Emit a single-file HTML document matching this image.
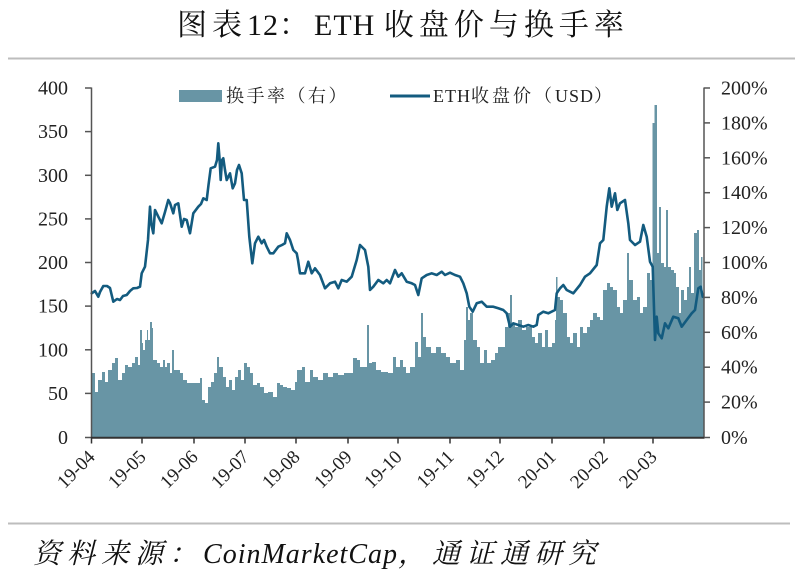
<!DOCTYPE html>
<html>
<head>
<meta charset="utf-8">
<style>
  html,body{margin:0;padding:0;background:#fff;}
  svg{display:block;}
  .serif{font-family:"Liberation Serif","Noto Serif CJK SC",serif;}
</style>
</head>
<body>
<svg width="800" height="574" viewBox="0 0 800 574" xmlns="http://www.w3.org/2000/svg">
  <rect x="0" y="0" width="800" height="574" fill="#ffffff"/>

  <!-- Title -->
  <text x="177" y="35" class="serif" font-size="30" fill="#111"><tspan style="letter-spacing:5px">图表</tspan><tspan style="letter-spacing:1px">12</tspan><tspan style="letter-spacing:5px">：</tspan><tspan style="letter-spacing:1px">ETH </tspan><tspan style="letter-spacing:5px">收盘价与换手率</tspan></text>
  <line x1="8" y1="58.5" x2="795" y2="58.5" stroke="#bdbdbd" stroke-width="2"/>

  <!-- Bars (turnover, right axis) -->
  <path fill="#6895a5" d="M91,437 V373 H95 V392 H98 V380 H102 V372 H105 V382 H108 V370 H112 V363 H115 V358 H118 V380 H122 V373 H125 V365 H128 V367 H132 V363 H135 V357 H138 V365 H140 V330 H142 V343 H143 V350 H145 V340 H147 V330 H148 V340 H150 V322 H152 V328 H153 V360 H157 V363 H160 V367 H163 V360 H165 V367 H167 V363 H170 V373 H172 V350 H174 V370 H180 V373 H183 V380 H187 V383 H200 V378 H202 V400 H205 V403 H208 V387 H211 V382 H214 V373 H217 V357 H219 V367 H223 V377 H226 V387 H229 V380 H232 V390 H235 V377 H238 V370 H241 V380 H244 V363 H247 V367 H250 V373 H253 V385 H257 V383 H260 V387 H264 V393 H268 V392 H273 V397 H277 V383 H280 V385 H283 V387 H287 V388 H291 V390 H295 V382 H297 V370 H302 V367 H305 V382 H310 V370 H313 V377 H318 V380 H323 V373 H328 V377 H333 V373 H338 V375 H344 V373 H353 V358 H357 V360 H360 V367 H367 V325 H369 V363 H372 V362 H376 V370 H381 V372 H388 V373 H393 V357 H396 V367 H400 V360 H403 V367 H406 V373 H410 V367 H415 V342 H418 V357 H421 V313 H423 V337 H426 V347 H431 V353 H436 V347 H441 V353 H446 V357 H450 V363 H456 V360 H460 V370 H464 V340 H466 V307 H468 V320 H470 V313 H473 V340 H477 V347 H480 V363 H484 V350 H487 V363 H491 V360 H495 V353 H498 V347 H505 V327 H508 V313 H510 V295 H512 V323 H515 V327 H518 V320 H522 V330 H526 V327 H532 V337 H535 V343 H538 V333 H542 V347 H545 V330 H548 V347 H552 V343 H555 V320 H556 V277 H557.5 V297 H560 V300 H563 V313 H567 V337 H570 V343 H573 V333 H577 V347 H580 V327 H583 V333 H587 V327 H590 V320 H593 V313 H597 V317 H600 V320 H603 V290 H607 V283 H610 V287 H613 V290 H617 V307 H620 V313 H623 V300 H627 V253 H629 V280 H633 V300 H637 V297 H640 V313 H643 V307 H647 V273 H650 V280 H652.5 V123 H654.5 V105 H657 V253 H659 V207 H661 V263 H664 V267 H666 V210 H668 V267 H671 V270 H674 V273 H676 V287 H679 V313 H681 V290 H684 V300 H687 V287 H689 V267 H691 V293 H694 V233 H697 V230 H699 V270 H701 V257 H702.5 V293 H704 V437 Z"/>

  <!-- Price line -->
  <polyline fill="none" stroke="#135b7f" stroke-width="2.6" stroke-linejoin="round" stroke-linecap="round" points="
  91.7,293.3 95,291 98.3,296.7 100,292 103.3,286 107,286 110,288 113.3,301.7 117,299 120,300 123,296 126.7,295 130,291 133.3,288.3 137,288 140,286.7 141.7,273.3 145,266.7 148,240 150,206.7 151.5,225 153.3,233.3 155,210 158.3,216.7 161.7,223.3 165,212 168.3,200 170,203 173.3,213.3 175,205 178.3,203.3 181.7,226.7 184,219 186.7,220 190,233.3 193.3,213.3 198.3,206.7 201,204 203.3,198.3 206.7,200 208.5,185 210.7,168.3 215,166.7 217,160 218.3,143.3 219.5,158 220.7,180 222,160 223.3,158.3 225,170 226.7,180 230,173.3 232.7,188.3 235,183.3 237,170 239,165 241.7,173.3 244,200 246.7,200 249.3,236.7 252.3,263.3 255,243.3 258.3,236.7 261.7,243.3 264,240 266.7,246.7 270,253.3 273.3,253.3 278.3,246.7 282,245 285,243.3 286.7,233.3 290,240 293.3,250 296.7,253.3 298,260 300,273.3
  305,273.3 308.3,261.7 311.7,273.3 315,268.3 320,275 325,288.3 330,283.3 335,281.7 338.3,288.3 341.7,280 346.7,281.7 351.7,276.7 356.7,260 360,245 365,250 368.3,266.7 370,290 373.3,286.7 378.3,280 383.3,283.3 386.7,280 390,283.3 395,270 398.3,276.7 401.7,273.3 406.7,281.7 411.7,283.3 415,285 418.3,295 421.7,278.3 426.7,275 431.7,273.3 436.7,275 441.7,271.7 445,275 450,272.7 455,275 460,276.7 463.3,283.3 466.7,293.3 469.3,306.7 472.7,311.7 476.7,303.3 481.7,301.7 486.7,306.7 493.3,306.7 498.3,308.3 503.3,310 506.7,313.3 510,326.7 513.3,323.3 518.3,325 523.3,326.7 528.3,325 533.3,326.7
  536.7,325 538.3,315 543.3,311.7 548.3,313.3 555,310 556.7,293.3 560,288.3 563.3,285 566.7,290 573.3,293.3 580,285 585,276.7 590,273.3 596.7,265 600,243.3 603.3,240 606.7,206.7 609.3,188.3 611.7,206.7 615,193.3 617.3,210 620,203.3 625,200 628.3,223.3 630,240 635,245 640,241.7 643.3,225 646.7,236.7 650,261.7 652.7,266.7 655,340 656.7,316.7 658.3,333.3 661.7,338.3 665,323.3 668.3,328.3 673.3,316.7 678.3,318.3 681.7,326.7 686.7,320 691.7,313.3 695,310 698.3,288.3 700.7,286.7 702.7,296.7"/>

  <!-- Axes -->
  <g stroke="#555" stroke-width="1.5" fill="none">
    <line x1="91.5" y1="87.5" x2="91.5" y2="438"/>
    <line x1="704" y1="87.5" x2="704" y2="438"/>
    <line x1="91" y1="437.8" x2="704.5" y2="437.8" stroke="#333" stroke-width="2"/>
    <line x1="85" y1="88" x2="91.5" y2="88"/>
    <line x1="85" y1="131.6" x2="91.5" y2="131.6"/>
    <line x1="85" y1="175.3" x2="91.5" y2="175.3"/>
    <line x1="85" y1="218.9" x2="91.5" y2="218.9"/>
    <line x1="85" y1="262.5" x2="91.5" y2="262.5"/>
    <line x1="85" y1="306.1" x2="91.5" y2="306.1"/>
    <line x1="85" y1="349.8" x2="91.5" y2="349.8"/>
    <line x1="85" y1="393.4" x2="91.5" y2="393.4"/>
    <line x1="85" y1="437.5" x2="91.5" y2="437.5"/>
    <line x1="704" y1="88" x2="710" y2="88"/>
    <line x1="704" y1="122.9" x2="710" y2="122.9"/>
    <line x1="704" y1="157.8" x2="710" y2="157.8"/>
    <line x1="704" y1="192.7" x2="710" y2="192.7"/>
    <line x1="704" y1="227.6" x2="710" y2="227.6"/>
    <line x1="704" y1="262.5" x2="710" y2="262.5"/>
    <line x1="704" y1="297.4" x2="710" y2="297.4"/>
    <line x1="704" y1="332.3" x2="710" y2="332.3"/>
    <line x1="704" y1="367.2" x2="710" y2="367.2"/>
    <line x1="704" y1="402.1" x2="710" y2="402.1"/>
    <line x1="704" y1="437.5" x2="710" y2="437.5"/>
    <g stroke="#333">
    <line x1="91.5" y1="437" x2="91.5" y2="443.5"/>
    <line x1="142" y1="437" x2="142" y2="443.5"/>
    <line x1="194" y1="437" x2="194" y2="443.5"/>
    <line x1="245" y1="437" x2="245" y2="443.5"/>
    <line x1="296" y1="437" x2="296" y2="443.5"/>
    <line x1="348" y1="437" x2="348" y2="443.5"/>
    <line x1="398" y1="437" x2="398" y2="443.5"/>
    <line x1="450" y1="437" x2="450" y2="443.5"/>
    <line x1="500" y1="437" x2="500" y2="443.5"/>
    <line x1="552" y1="437" x2="552" y2="443.5"/>
    <line x1="604" y1="437" x2="604" y2="443.5"/>
    <line x1="653" y1="437" x2="653" y2="443.5"/>
    </g>
  </g>

  <!-- Left axis labels -->
  <g class="serif" font-size="20" fill="#222" text-anchor="end">
    <text x="68" y="94.5">400</text>
    <text x="68" y="138.1">350</text>
    <text x="68" y="181.8">300</text>
    <text x="68" y="225.4">250</text>
    <text x="68" y="269">200</text>
    <text x="68" y="312.6">150</text>
    <text x="68" y="356.3">100</text>
    <text x="68" y="399.9">50</text>
    <text x="68" y="444">0</text>
  </g>

  <!-- Right axis labels -->
  <g class="serif" font-size="20" fill="#222">
    <text x="721" y="94.5">200%</text>
    <text x="721" y="129.4">180%</text>
    <text x="721" y="164.3">160%</text>
    <text x="721" y="199.2">140%</text>
    <text x="721" y="234.1">120%</text>
    <text x="721" y="269">100%</text>
    <text x="721" y="303.9">80%</text>
    <text x="721" y="338.8">60%</text>
    <text x="721" y="373.7">40%</text>
    <text x="721" y="408.6">20%</text>
    <text x="721" y="444">0%</text>
  </g>

  <!-- X axis labels -->
  <g class="serif" font-size="19" fill="#222" text-anchor="end">
    <text transform="translate(96,458) rotate(-45)">19-04</text>
    <text transform="translate(147,458) rotate(-45)">19-05</text>
    <text transform="translate(199,458) rotate(-45)">19-06</text>
    <text transform="translate(250,458) rotate(-45)">19-07</text>
    <text transform="translate(301,458) rotate(-45)">19-08</text>
    <text transform="translate(353,458) rotate(-45)">19-09</text>
    <text transform="translate(403,458) rotate(-45)">19-10</text>
    <text transform="translate(455,458) rotate(-45)">19-11</text>
    <text transform="translate(505,458) rotate(-45)">19-12</text>
    <text transform="translate(557,458) rotate(-45)">20-01</text>
    <text transform="translate(609,458) rotate(-45)">20-02</text>
    <text transform="translate(658,458) rotate(-45)">20-03</text>
  </g>

  <!-- Legend -->
  <rect x="179" y="90" width="43" height="12" fill="#6895a5"/>
  <text x="226" y="102" class="serif" font-size="18" fill="#222" style="letter-spacing:2.5px">换手率（右）</text>
  <line x1="390" y1="96" x2="430" y2="96" stroke="#135b7f" stroke-width="3"/>
  <text x="433" y="102" class="serif" font-size="18" fill="#222"><tspan style="letter-spacing:1px">ETH</tspan><tspan style="letter-spacing:3px">收盘价（</tspan><tspan style="letter-spacing:1px">USD</tspan><tspan>）</tspan></text>

  <!-- Bottom separator & source -->
  <line x1="8" y1="523.5" x2="790" y2="523.5" stroke="#bdbdbd" stroke-width="2"/>
  <text x="33" y="563" class="serif" font-size="28" font-style="italic" fill="#111"><tspan style="letter-spacing:6px">资料来源：</tspan><tspan style="letter-spacing:1px">CoinMarketCap</tspan><tspan style="letter-spacing:6px">，通证通研究</tspan></text>
</svg>
</body>
</html>
